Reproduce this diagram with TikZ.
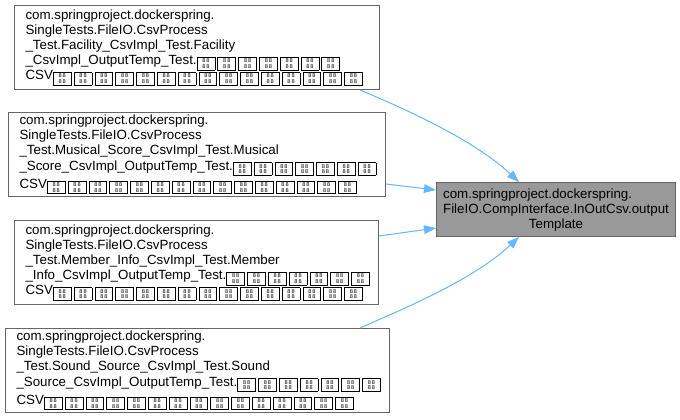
\documentclass[tikz,border=0pt]{standalone}
\usepackage{fontspec}
\setmainfont{Liberation Sans}
\usetikzlibrary{arrows.meta}
\definecolor{edgeblue}{HTML}{63B8FF}
\definecolor{bordergray}{HTML}{666666}
\definecolor{fillgray}{HTML}{999999}
\newcommand\tofu{\raisebox{-1.8pt}{\setlength\fboxsep{0pt}\setlength\fboxrule{0.6pt}\fbox{\parbox[c][8.8pt][c]{12.8pt}{\centering\fontsize{4.2pt}{4.3pt}\selectfont 8\,8\\8\,8}}}\kern1.6pt}
\newcommand\tofuseven{\tofu\tofu\tofu\tofu\tofu\tofu\tofu}
\newcommand\tofufifteen{\tofuseven\tofuseven\tofu}
\begin{document}
\begin{tikzpicture}[x=0.75pt,y=-0.75pt,
  box/.style={draw=bordergray, line width=0.75pt, fill=white, anchor=north west,
    inner sep=0pt, align=left, minimum height=63pt,
    font=\fontsize{10pt}{11.4pt}\selectfont},
  target/.style={draw=bordergray, line width=0.75pt, fill=fillgray, anchor=north west,
    inner sep=0pt, align=center, minimum width=179.25pt, minimum height=40.5pt,
    font=\fontsize{10pt}{11.4pt}\selectfont},
  edge/.style={draw=edgeblue, line width=0.75pt, -{Triangle[length=9pt,width=6.5pt]}}]
\useasboundingbox (0,0) rectangle (680,419);
\fill[white] (0,0) rectangle (680,419);

\node[target] (t) at (436,182) {\begin{tabular}{@{}l@{}}com.springproject.dockerspring.\\FileIO.CompInterface.InOutCsv.output\end{tabular}\\Template};

\node[box, minimum width=273.75pt, text width=257.25pt] (b1) at (14,5)
 {com.springproject.dockerspring.\\SingleTests.FileIO.CsvProcess\\\_Test.Facility\_CsvImpl\_Test.Facility\\\_CsvImpl\_OutputTemp\_Test.\tofuseven\\CSV\tofufifteen};
\node[box, minimum width=282.75pt, text width=266.25pt] (b2) at (8,112)
 {com.springproject.dockerspring.\\SingleTests.FileIO.CsvProcess\\\_Test.Musical\_Score\_CsvImpl\_Test.Musical\\\_Score\_CsvImpl\_OutputTemp\_Test.\tofuseven\\\kern2.5pt CSV\tofufifteen};
\node[box, minimum width=273pt, text width=256.5pt] (b3) at (14,220)
 {com.springproject.dockerspring.\\SingleTests.FileIO.CsvProcess\\\_Test.Member\_Info\_CsvImpl\_Test.Member\\\_Info\_CsvImpl\_OutputTemp\_Test.\tofuseven\\CSV\tofufifteen};
\node[box, minimum width=288pt, text width=271.5pt] (b4) at (5,328)
 {com.springproject.dockerspring.\\SingleTests.FileIO.CsvProcess\\\_Test.Sound\_Source\_CsvImpl\_Test.Sound\\\_Source\_CsvImpl\_OutputTemp\_Test.\tofuseven\\\kern2.5pt CSV\tofufifteen};

\draw[edge] (b1.south -| 360,0) .. controls (398,106) and (472,138) .. (t.north -| 519,0);
\draw[edge] (b2.east |- 0,184) -- (t.west |- 0,190);
\draw[edge] (b3.east |- 0,236) -- (t.west |- 0,228);
\draw[edge] (b4.north -| 360,0) .. controls (398,311) and (472,281) .. (t.south -| 519,0);
\end{tikzpicture}
\end{document}
